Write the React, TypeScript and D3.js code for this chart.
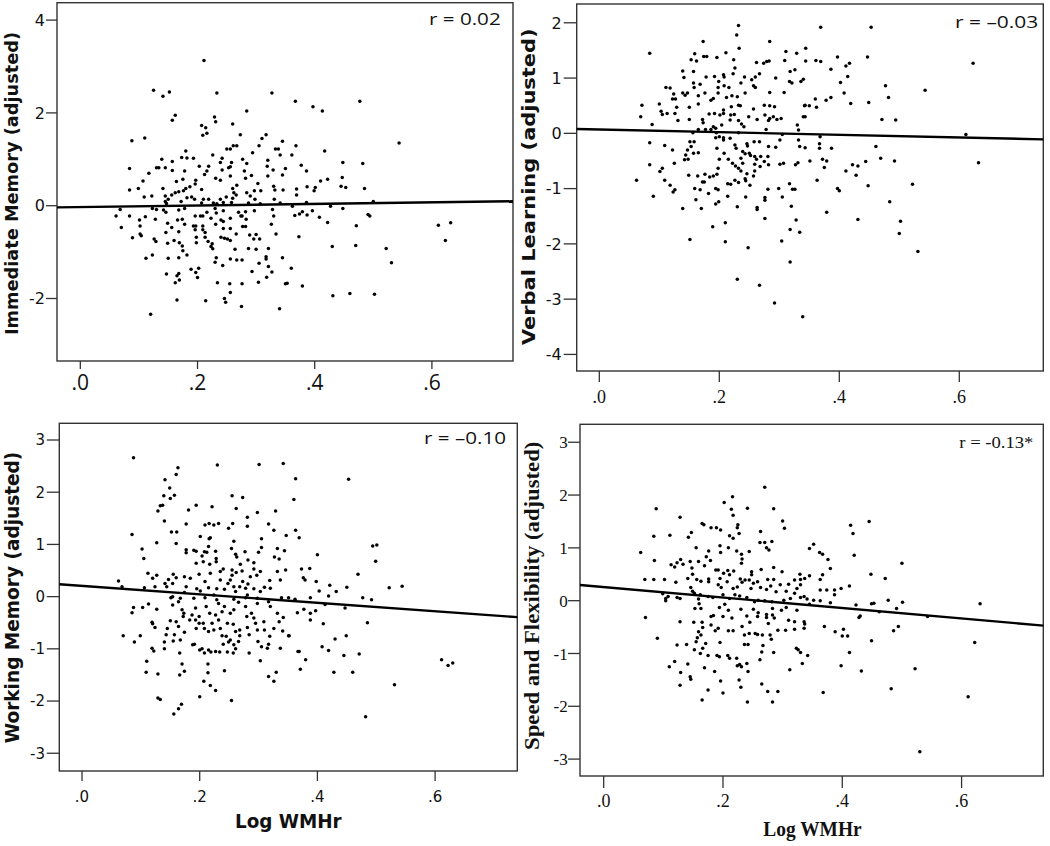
import React from 'react';
import * as d3 from 'd3';

type Pt = [number, number];

// ---------- data ----------
const xTickValues = [0, 0.2, 0.4, 0.6];
const xTickLabels = ['.0', '.2', '.4', '.6'];
const immediateTicks = [4, 2, 0, -2];
const verbalTicks = [2, 1, 0, -1, -2, -3, -4];
const workingTicks = [3, 2, 1, 0, -1, -2, -3];
const speedTicks = [3, 2, 1, 0, -1, -2, -3];

const yTitles = ['Immediate Memory (adjusted)', 'Verbal Learning (adjusted)', 'Working Memory (adjusted)', 'Speed and Flexibility (adjusted)'];
const xTitle = 'Log WMHr';
const rLabels = ['r = 0.02', 'r = \u20130.03', 'r = \u20130.10', 'r = -0.13*'];
const fitIntercepts = [-0.03, 0.069, 0.206, 0.258];
const fitSlopes = [0.17, -0.24, -0.81, -0.99];

const immediateMemory: Pt[] = [
[0.211,3.13],[0.125,2.49],[0.152,2.45],[0.141,2.36],[0.233,2.43],[0.327,2.43],[0.284,2.04],[0.162,1.95],[0.157,1.84],[0.229,1.91],[0.231,1.81],[0.207,1.73],[0.214,1.68],[0.260,1.76],[0.209,1.52],[0.216,1.56],[0.273,1.53],[0.088,1.40],[0.110,1.46],[0.317,1.53],[0.310,1.45],[0.305,1.29],[0.345,1.39],[0.261,1.29],[0.267,1.29],[0.250,1.22],[0.256,1.22],[0.180,1.18],[0.333,1.22],[0.338,1.22],[0.294,1.14],[0.341,1.09],[0.226,1.09],[0.173,1.04],[0.182,1.03],[0.193,1.02],[0.139,1.00],[0.242,1.02],[0.277,1.00],[0.320,0.98],[0.157,0.95],[0.284,0.91],[0.258,0.93],[0.239,0.93],[0.084,0.80],[0.130,0.82],[0.134,0.82],[0.145,0.82],[0.203,0.85],[0.219,0.85],[0.253,0.82],[0.256,0.84],[0.319,0.85],[0.117,0.70],[0.157,0.76],[0.178,0.75],[0.212,0.67],[0.216,0.75],[0.231,0.59],[0.242,0.77],[0.256,0.64],[0.280,0.75],[0.282,0.59],[0.292,0.65],[0.320,0.64],[0.329,0.77],[0.107,0.53],[0.164,0.52],[0.175,0.57],[0.197,0.55],[0.239,0.55],[0.267,0.44],[0.303,0.48],[0.345,0.66],[0.084,0.34],[0.099,0.37],[0.141,0.37],[0.168,0.30],[0.176,0.32],[0.180,0.37],[0.187,0.41],[0.196,0.47],[0.207,0.35],[0.260,0.37],[0.262,0.28],[0.284,0.28],[0.297,0.32],[0.308,0.32],[0.330,0.42],[0.332,0.34],[0.346,0.34],[0.109,0.19],[0.122,0.21],[0.145,0.21],[0.156,0.23],[0.162,0.28],[0.182,0.17],[0.190,0.19],[0.195,0.14],[0.210,0.14],[0.219,0.14],[0.239,0.14],[0.249,0.19],[0.260,0.16],[0.266,0.23],[0.290,0.21],[0.298,0.14],[0.331,0.14],[0.341,0.06],[0.145,0.09],[0.147,0.05],[0.150,0.14],[0.172,0.09],[0.207,0.06],[0.227,0.06],[0.233,0.04],[0.244,0.07],[0.258,0.07],[0.287,0.06],[0.307,0.04],[0.068,-0.08],[0.123,-0.06],[0.130,-0.08],[0.142,-0.09],[0.146,-0.14],[0.168,-0.09],[0.178,-0.06],[0.216,-0.14],[0.230,-0.06],[0.232,-0.16],[0.244,-0.11],[0.270,-0.14],[0.276,-0.22],[0.282,-0.13],[0.297,-0.11],[0.328,-0.08],[0.061,-0.22],[0.084,-0.22],[0.111,-0.24],[0.128,-0.29],[0.196,-0.22],[0.205,-0.22],[0.209,-0.22],[0.223,-0.27],[0.240,-0.31],[0.244,-0.34],[0.256,-0.27],[0.274,-0.22],[0.283,-0.29],[0.330,-0.22],[0.101,-0.31],[0.166,-0.31],[0.174,-0.29],[0.149,-0.38],[0.156,-0.47],[0.178,-0.40],[0.193,-0.44],[0.197,-0.44],[0.209,-0.44],[0.231,-0.40],[0.244,-0.49],[0.256,-0.49],[0.277,-0.45],[0.282,-0.45],[0.070,-0.47],[0.102,-0.44],[0.102,-0.61],[0.196,-0.52],[0.209,-0.52],[0.146,-0.58],[0.168,-0.56],[0.213,-0.58],[0.266,-0.61],[0.289,-0.63],[0.300,-0.62],[0.326,-0.40],[0.334,-0.61],[0.089,-0.69],[0.104,-0.65],[0.198,-0.68],[0.213,-0.68],[0.240,-0.68],[0.246,-0.70],[0.251,-0.72],[0.256,-0.75],[0.296,-0.72],[0.306,-0.72],[0.126,-0.72],[0.129,-0.77],[0.149,-0.81],[0.160,-0.75],[0.169,-0.80],[0.198,-0.80],[0.218,-0.77],[0.225,-0.82],[0.174,-0.87],[0.223,-0.88],[0.226,-0.93],[0.264,-0.94],[0.287,-0.92],[0.300,-0.94],[0.321,-0.92],[0.175,-0.97],[0.182,-1.06],[0.123,-1.06],[0.112,-1.13],[0.150,-1.13],[0.168,-1.12],[0.232,-1.12],[0.256,-1.15],[0.267,-1.17],[0.276,-1.17],[0.230,-1.22],[0.317,-1.10],[0.317,-1.15],[0.345,-1.12],[0.305,-1.24],[0.243,-1.29],[0.189,-1.37],[0.202,-1.35],[0.321,-1.31],[0.293,-1.42],[0.318,-1.54],[0.327,-1.43],[0.147,-1.47],[0.168,-1.46],[0.197,-1.44],[0.200,-1.55],[0.165,-1.51],[0.162,-1.66],[0.169,-1.60],[0.234,-1.66],[0.255,-1.68],[0.276,-1.68],[0.304,-1.65],[0.353,-1.67],[0.256,-1.87],[0.246,-2.00],[0.248,-2.08],[0.165,-2.03],[0.214,-2.05],[0.275,-2.17],[0.340,-2.22],[0.120,-2.34],
[0.367,2.25],[0.477,2.25],[0.397,2.13],[0.413,2.04],[0.544,1.35],[0.368,1.29],[0.361,1.09],[0.417,1.18],[0.448,0.93],[0.482,0.91],[0.377,0.87],[0.386,0.75],[0.350,0.80],[0.422,0.57],[0.410,0.53],[0.447,0.61],[0.401,0.39],[0.399,0.32],[0.387,0.41],[0.445,0.42],[0.453,0.39],[0.485,0.37],[0.369,0.36],[0.369,0.23],[0.386,0.07],[0.500,0.09],[0.362,-0.01],[0.427,-0.01],[0.448,-0.06],[0.366,-0.21],[0.374,-0.18],[0.379,-0.13],[0.387,-0.20],[0.396,-0.11],[0.408,-0.25],[0.422,-0.36],[0.491,-0.19],[0.494,-0.22],[0.471,-0.43],[0.611,-0.42],[0.632,-0.37],[0.623,-0.75],[0.373,-0.67],[0.430,-0.88],[0.470,-0.86],[0.522,-0.92],[0.531,-1.23],[0.360,-1.35],[0.350,-1.68],[0.379,-1.73],[0.431,-1.94],[0.460,-1.89],[0.502,-1.91]
];

const verbalLearning: Pt[] = [
[0.232,1.95],[0.229,1.78],[0.233,1.54],[0.173,1.66],[0.284,1.66],[0.084,1.45],[0.211,1.46],[0.224,1.33],[0.159,1.44],[0.153,1.33],[0.162,1.31],[0.174,1.39],[0.179,1.39],[0.196,1.37],[0.226,1.18],[0.262,1.28],[0.274,1.27],[0.279,1.30],[0.283,1.31],[0.311,1.48],[0.309,1.32],[0.329,1.45],[0.326,1.15],[0.318,1.12],[0.139,1.13],[0.157,1.12],[0.141,1.01],[0.178,1.02],[0.192,1.03],[0.199,0.94],[0.207,1.06],[0.208,1.02],[0.223,1.08],[0.242,1.02],[0.254,0.97],[0.260,1.02],[0.267,1.08],[0.294,1.00],[0.336,0.94],[0.317,0.94],[0.321,0.91],[0.111,0.83],[0.118,0.82],[0.158,0.83],[0.157,0.91],[0.168,0.89],[0.198,0.83],[0.208,0.86],[0.216,0.83],[0.236,0.91],[0.257,0.86],[0.260,0.83],[0.243,0.73],[0.139,0.73],[0.143,0.69],[0.147,0.73],[0.124,0.71],[0.165,0.68],[0.176,0.73],[0.186,0.60],[0.190,0.63],[0.198,0.73],[0.212,0.65],[0.221,0.68],[0.230,0.66],[0.284,0.74],[0.308,0.74],[0.122,0.62],[0.127,0.62],[0.071,0.51],[0.100,0.53],[0.129,0.47],[0.150,0.47],[0.165,0.53],[0.207,0.42],[0.207,0.36],[0.220,0.48],[0.232,0.51],[0.235,0.50],[0.257,0.44],[0.275,0.51],[0.284,0.50],[0.292,0.48],[0.342,0.50],[0.103,0.40],[0.105,0.34],[0.113,0.36],[0.126,0.36],[0.183,0.35],[0.192,0.36],[0.201,0.33],[0.219,0.33],[0.225,0.34],[0.249,0.30],[0.276,0.33],[0.284,0.27],[0.290,0.30],[0.296,0.25],[0.303,0.27],[0.343,0.30],[0.069,0.30],[0.088,0.16],[0.131,0.23],[0.150,0.25],[0.172,0.25],[0.173,0.19],[0.218,0.24],[0.232,0.23],[0.237,0.17],[0.241,0.12],[0.263,0.25],[0.282,0.23],[0.330,0.15],[0.204,0.15],[0.190,0.12],[0.194,0.09],[0.186,0.07],[0.177,0.07],[0.165,0.07],[0.278,0.07],[0.332,0.06],[0.156,0.01],[0.195,0.01],[0.232,0.01],[0.200,-0.06],[0.194,-0.08],[0.207,-0.08],[0.207,-0.12],[0.218,-0.09],[0.305,-0.02],[0.301,-0.12],[0.332,-0.12],[0.084,-0.17],[0.109,-0.22],[0.122,-0.30],[0.151,-0.15],[0.158,-0.15],[0.153,-0.24],[0.147,-0.30],[0.144,-0.39],[0.157,-0.36],[0.165,-0.35],[0.258,-0.15],[0.267,-0.15],[0.226,-0.21],[0.228,-0.27],[0.246,-0.19],[0.247,-0.23],[0.282,-0.24],[0.294,-0.25],[0.334,-0.24],[0.196,-0.27],[0.208,-0.36],[0.239,-0.33],[0.243,-0.37],[0.250,-0.36],[0.215,-0.47],[0.148,-0.47],[0.142,-0.48],[0.200,-0.47],[0.236,-0.45],[0.252,-0.40],[0.259,-0.42],[0.262,-0.47],[0.269,-0.42],[0.281,-0.42],[0.275,-0.51],[0.084,-0.57],[0.125,-0.54],[0.222,-0.54],[0.227,-0.59],[0.239,-0.54],[0.259,-0.56],[0.268,-0.60],[0.282,-0.57],[0.301,-0.56],[0.307,-0.54],[0.327,-0.57],[0.331,-0.53],[0.105,-0.63],[0.101,-0.69],[0.232,-0.63],[0.236,-0.68],[0.259,-0.68],[0.246,-0.73],[0.198,-0.63],[0.196,-0.74],[0.149,-0.76],[0.164,-0.77],[0.176,-0.74],[0.172,-0.88],[0.175,-0.88],[0.190,-0.77],[0.184,-0.79],[0.109,-0.85],[0.118,-0.94],[0.126,-1.02],[0.123,-1.06],[0.062,-0.85],[0.214,-0.91],[0.219,-0.92],[0.226,-0.85],[0.232,-0.89],[0.243,-0.82],[0.244,-0.86],[0.251,-0.94],[0.257,-0.77],[0.194,-1.00],[0.198,-1.02],[0.159,-1.00],[0.168,-1.02],[0.299,-1.00],[0.317,-0.91],[0.322,-1.01],[0.326,-1.01],[0.281,-1.01],[0.090,-1.14],[0.161,-1.20],[0.182,-1.09],[0.214,-1.14],[0.244,-1.15],[0.276,-1.16],[0.276,-1.21],[0.305,-1.15],[0.194,-1.28],[0.199,-1.24],[0.139,-1.36],[0.170,-1.36],[0.230,-1.33],[0.263,-1.34],[0.263,-1.38],[0.320,-1.32],[0.276,-1.54],[0.328,-1.57],[0.210,-1.62],[0.189,-1.69],[0.318,-1.74],[0.334,-1.79],[0.304,-1.95],[0.151,-1.92],[0.210,-1.96],[0.248,-2.07],[0.318,-2.33],[0.230,-2.64],[0.267,-2.75],[0.292,-3.07],[0.339,-3.32],
[0.369,1.92],[0.453,1.92],[0.344,1.54],[0.344,1.31],[0.361,1.32],[0.369,1.30],[0.397,1.38],[0.447,1.38],[0.623,1.27],[0.386,1.16],[0.411,1.22],[0.417,1.27],[0.414,1.03],[0.402,0.92],[0.340,0.98],[0.408,0.73],[0.477,0.86],[0.482,0.65],[0.543,0.78],[0.360,0.62],[0.378,0.60],[0.386,0.65],[0.343,0.51],[0.350,0.50],[0.362,0.47],[0.419,0.54],[0.449,0.56],[0.340,0.30],[0.471,0.25],[0.494,0.24],[0.611,-0.02],[0.368,-0.06],[0.367,-0.19],[0.367,-0.27],[0.343,-0.26],[0.387,-0.27],[0.461,-0.24],[0.351,-0.50],[0.372,-0.47],[0.379,-0.50],[0.375,-0.62],[0.422,-0.57],[0.431,-0.59],[0.444,-0.51],[0.469,-0.45],[0.492,-0.50],[0.632,-0.53],[0.411,-0.68],[0.428,-0.76],[0.363,-0.85],[0.397,-1.00],[0.400,-1.04],[0.448,-0.95],[0.522,-0.92],[0.484,-1.24],[0.379,-1.43],[0.431,-1.56],[0.502,-1.59],[0.500,-1.81],[0.531,-2.14]
];

const workingMemory: Pt[] = [
[0.0875,2.66],[0.163,2.47],[0.160,2.34],[0.230,2.52],[0.301,2.53],[0.342,2.55],[0.141,2.24],[0.149,2.08],[0.157,1.94],[0.139,1.93],[0.150,1.88],[0.255,1.93],[0.273,1.90],[0.194,1.75],[0.133,1.74],[0.137,1.75],[0.221,1.72],[0.262,1.69],[0.181,1.66],[0.129,1.64],[0.329,1.64],[0.298,1.61],[0.140,1.45],[0.281,1.52],[0.177,1.39],[0.209,1.37],[0.216,1.40],[0.224,1.37],[0.232,1.40],[0.249,1.31],[0.256,1.40],[0.281,1.35],[0.317,1.39],[0.326,1.27],[0.152,1.24],[0.161,1.24],[0.085,1.19],[0.218,1.13],[0.216,1.11],[0.201,1.15],[0.305,1.11],[0.347,1.17],[0.258,1.06],[0.160,1.02],[0.127,1.03],[0.102,0.91],[0.177,0.90],[0.194,0.87],[0.208,0.86],[0.212,0.85],[0.215,0.96],[0.227,0.87],[0.254,0.92],[0.277,0.86],[0.305,0.94],[0.332,0.92],[0.300,0.85],[0.344,0.88],[0.105,0.73],[0.177,0.84],[0.190,0.89],[0.204,0.78],[0.228,0.73],[0.261,0.81],[0.263,0.76],[0.282,0.70],[0.292,0.65],[0.327,0.76],[0.335,0.72],[0.194,0.64],[0.206,0.67],[0.217,0.62],[0.228,0.67],[0.269,0.62],[0.240,0.53],[0.255,0.51],[0.272,0.49],[0.292,0.53],[0.303,0.48],[0.332,0.48],[0.346,0.51],[0.112,0.45],[0.155,0.43],[0.174,0.38],[0.184,0.35],[0.199,0.43],[0.218,0.45],[0.235,0.48],[0.255,0.41],[0.262,0.46],[0.252,0.32],[0.286,0.38],[0.297,0.41],[0.120,0.35],[0.127,0.41],[0.062,0.30],[0.147,0.33],[0.160,0.36],[0.141,0.25],[0.209,0.29],[0.235,0.32],[0.248,0.25],[0.273,0.29],[0.282,0.24],[0.319,0.31],[0.337,0.32],[0.068,0.19],[0.106,0.17],[0.124,0.19],[0.144,0.19],[0.154,0.25],[0.177,0.19],[0.195,0.15],[0.215,0.17],[0.229,0.15],[0.242,0.14],[0.258,0.19],[0.268,0.19],[0.278,0.16],[0.292,0.15],[0.310,0.18],[0.320,0.16],[0.174,0.08],[0.201,0.11],[0.224,0.03],[0.261,0.10],[0.281,0.03],[0.303,0.10],[0.151,-0.02],[0.154,0.00],[0.167,-0.03],[0.164,-0.10],[0.190,-0.03],[0.209,-0.02],[0.229,-0.06],[0.258,-0.05],[0.266,-0.11],[0.278,-0.02],[0.298,-0.03],[0.317,-0.10],[0.339,-0.02],[0.0875,-0.21],[0.103,-0.21],[0.127,-0.24],[0.085,-0.31],[0.113,-0.14],[0.154,-0.16],[0.170,-0.25],[0.173,-0.32],[0.193,-0.22],[0.211,-0.19],[0.232,-0.13],[0.242,-0.19],[0.258,-0.25],[0.278,-0.19],[0.288,-0.32],[0.298,-0.13],[0.320,-0.19],[0.332,-0.32],[0.172,-0.38],[0.187,-0.35],[0.199,-0.38],[0.217,-0.32],[0.227,-0.35],[0.238,-0.29],[0.252,-0.32],[0.280,-0.38],[0.292,-0.41],[0.342,-0.40],[0.335,-0.48],[0.120,-0.52],[0.150,-0.46],[0.160,-0.48],[0.183,-0.45],[0.193,-0.45],[0.199,-0.51],[0.206,-0.51],[0.221,-0.51],[0.232,-0.45],[0.247,-0.51],[0.257,-0.53],[0.295,-0.51],[0.309,-0.48],[0.119,-0.49],[0.124,-0.59],[0.145,-0.61],[0.164,-0.57],[0.194,-0.61],[0.208,-0.61],[0.215,-0.67],[0.224,-0.64],[0.235,-0.61],[0.261,-0.67],[0.268,-0.64],[0.281,-0.59],[0.298,-0.64],[0.310,-0.64],[0.326,-0.61],[0.070,-0.75],[0.099,-0.75],[0.143,-0.73],[0.157,-0.73],[0.174,-0.68],[0.238,-0.75],[0.245,-0.76],[0.252,-0.83],[0.268,-0.75],[0.284,-0.73],[0.319,-0.76],[0.352,-0.75],[0.089,-0.87],[0.140,-0.87],[0.155,-0.85],[0.167,-0.83],[0.240,-0.91],[0.249,-0.87],[0.258,-0.92],[0.266,-0.86],[0.299,-0.86],[0.305,-0.96],[0.191,-0.91],[0.188,-0.92],[0.204,-1.00],[0.208,-1.08],[0.215,-1.02],[0.119,-0.99],[0.122,-1.04],[0.140,-1.00],[0.219,-1.06],[0.227,-1.05],[0.234,-1.06],[0.247,-1.06],[0.257,-1.08],[0.261,-1.00],[0.284,-1.08],[0.315,-0.99],[0.317,-0.91],[0.337,-0.99],[0.166,-1.08],[0.200,-1.02],[0.110,-1.24],[0.109,-1.45],[0.129,-1.48],[0.170,-1.29],[0.174,-1.43],[0.166,-1.50],[0.214,-1.29],[0.214,-1.46],[0.207,-1.62],[0.218,-1.70],[0.242,-1.42],[0.303,-1.23],[0.317,-1.53],[0.326,-1.62],[0.330,-1.45],[0.200,-1.92],[0.129,-1.94],[0.133,-1.97],[0.227,-1.80],[0.254,-1.99],[0.169,-2.06],[0.164,-2.15],[0.156,-2.25],
[0.363,2.26],[0.453,2.25],[0.360,1.86],[0.363,1.27],[0.369,1.13],[0.494,0.97],[0.501,0.99],[0.499,0.68],[0.400,0.80],[0.373,0.53],[0.376,0.36],[0.387,0.54],[0.379,0.32],[0.398,0.29],[0.469,0.43],[0.522,0.17],[0.544,0.20],[0.421,0.22],[0.432,0.10],[0.450,0.18],[0.403,0.11],[0.419,0.01],[0.388,-0.02],[0.477,-0.02],[0.492,-0.06],[0.351,-0.02],[0.362,-0.05],[0.413,-0.15],[0.447,-0.22],[0.366,-0.31],[0.377,-0.24],[0.388,-0.32],[0.388,-0.45],[0.397,-0.27],[0.410,-0.52],[0.485,-0.50],[0.341,-0.66],[0.351,-0.75],[0.430,-0.81],[0.449,-0.75],[0.408,-0.96],[0.419,-1.03],[0.445,-1.13],[0.471,-1.10],[0.367,-1.05],[0.369,-1.05],[0.380,-1.21],[0.371,-1.39],[0.428,-1.45],[0.460,-1.45],[0.611,-1.21],[0.622,-1.32],[0.630,-1.27],[0.531,-1.69],[0.482,-2.30]
];

const speedFlexibility: Pt[] = [
[0.270,2.15],[0.216,1.97],[0.202,1.86],[0.241,1.75],[0.214,1.73],[0.217,1.62],[0.285,1.74],[0.088,1.74],[0.128,1.58],[0.300,1.51],[0.303,1.37],[0.165,1.46],[0.168,1.44],[0.180,1.38],[0.189,1.38],[0.196,1.34],[0.147,1.29],[0.142,1.20],[0.084,1.22],[0.111,1.24],[0.225,1.44],[0.224,1.38],[0.227,1.27],[0.211,1.23],[0.217,1.18],[0.209,1.00],[0.263,1.31],[0.262,1.10],[0.270,1.10],[0.282,1.12],[0.273,1.00],[0.277,0.96],[0.244,0.93],[0.195,1.04],[0.155,1.00],[0.176,0.94],[0.172,0.83],[0.179,0.76],[0.196,0.91],[0.231,0.88],[0.232,0.79],[0.231,0.71],[0.223,0.94],[0.062,0.91],[0.085,0.76],[0.129,0.78],[0.123,0.72],[0.133,0.69],[0.145,0.74],[0.148,0.62],[0.159,0.74],[0.149,0.50],[0.113,0.68],[0.119,0.64],[0.141,0.42],[0.169,0.66],[0.188,0.58],[0.192,0.58],[0.195,0.42],[0.201,0.52],[0.208,0.57],[0.211,0.49],[0.218,0.56],[0.248,0.55],[0.248,0.49],[0.264,0.59],[0.285,0.63],[0.299,0.55],[0.285,0.40],[0.296,0.30],[0.310,0.31],[0.320,0.39],[0.329,0.50],[0.330,0.40],[0.330,0.30],[0.337,0.42],[0.069,0.40],[0.084,0.40],[0.102,0.40],[0.121,0.35],[0.156,0.40],[0.163,0.37],[0.176,0.41],[0.176,0.36],[0.229,0.41],[0.232,0.35],[0.237,0.39],[0.244,0.39],[0.251,0.33],[0.258,0.36],[0.275,0.40],[0.192,0.30],[0.197,0.25],[0.207,0.36],[0.217,0.23],[0.224,0.26],[0.247,0.23],[0.263,0.25],[0.273,0.21],[0.280,0.28],[0.289,0.17],[0.306,0.18],[0.320,0.14],[0.324,0.23],[0.099,0.13],[0.104,0.04],[0.104,0.00],[0.108,0.08],[0.123,0.06],[0.128,0.04],[0.152,0.14],[0.162,0.11],[0.149,0.18],[0.146,0.25],[0.159,0.03],[0.175,0.08],[0.183,0.06],[0.200,0.11],[0.211,0.04],[0.220,0.11],[0.228,0.09],[0.240,0.06],[0.253,-0.02],[0.259,0.01],[0.270,0.00],[0.282,-0.02],[0.302,0.01],[0.313,0.04],[0.330,0.06],[0.336,0.08],[0.160,-0.06],[0.153,-0.15],[0.163,-0.15],[0.194,-0.13],[0.203,-0.07],[0.209,-0.18],[0.230,-0.16],[0.251,-0.16],[0.259,-0.23],[0.273,-0.26],[0.283,-0.15],[0.298,-0.18],[0.306,-0.13],[0.324,-0.18],[0.070,-0.32],[0.180,-0.30],[0.184,-0.28],[0.200,-0.30],[0.215,-0.33],[0.240,-0.29],[0.245,-0.41],[0.258,-0.30],[0.273,-0.32],[0.283,-0.27],[0.286,-0.33],[0.276,-0.43],[0.310,-0.37],[0.320,-0.40],[0.336,-0.40],[0.337,-0.44],[0.128,-0.40],[0.151,-0.41],[0.165,-0.41],[0.166,-0.51],[0.159,-0.59],[0.157,-0.70],[0.163,-0.65],[0.155,-0.78],[0.171,-0.81],[0.180,-0.46],[0.187,-0.57],[0.192,-0.52],[0.209,-0.57],[0.217,-0.57],[0.232,-0.49],[0.236,-0.65],[0.244,-0.62],[0.254,-0.62],[0.258,-0.64],[0.266,-0.65],[0.279,-0.65],[0.281,-0.73],[0.292,-0.56],[0.305,-0.56],[0.320,-0.54],[0.336,-0.52],[0.195,-0.79],[0.236,-0.83],[0.242,-0.83],[0.267,-0.85],[0.123,-0.84],[0.139,-0.83],[0.090,-0.71],[0.285,-0.98],[0.265,-0.97],[0.262,-1.12],[0.323,-0.90],[0.326,-0.93],[0.330,-0.98],[0.333,-1.19],[0.312,-1.31],[0.166,-0.90],[0.152,-0.93],[0.162,-1.00],[0.175,-1.04],[0.190,-1.04],[0.194,-1.06],[0.208,-1.04],[0.211,-1.09],[0.223,-1.09],[0.228,-1.21],[0.231,-1.25],[0.224,-1.23],[0.240,-1.19],[0.242,-1.34],[0.110,-1.25],[0.119,-1.15],[0.141,-1.20],[0.129,-1.36],[0.145,-1.44],[0.146,-1.49],[0.128,-1.60],[0.169,-1.27],[0.186,-1.34],[0.196,-1.52],[0.200,-1.75],[0.175,-1.69],[0.165,-1.88],[0.227,-1.50],[0.230,-1.64],[0.265,-1.58],[0.275,-1.72],[0.292,-1.72],[0.241,-1.92],[0.283,-1.92],
[0.445,1.50],[0.414,1.43],[0.418,1.27],[0.420,0.86],[0.352,1.07],[0.345,0.99],[0.362,0.91],[0.367,0.88],[0.376,0.78],[0.380,0.61],[0.500,0.71],[0.448,0.50],[0.472,0.42],[0.345,0.47],[0.367,0.49],[0.363,0.40],[0.412,0.28],[0.398,0.23],[0.387,0.20],[0.387,0.11],[0.363,0.20],[0.374,0.20],[0.341,0.03],[0.352,0.01],[0.363,0.00],[0.380,-0.04],[0.345,-0.07],[0.423,-0.08],[0.449,-0.06],[0.453,-0.05],[0.477,0.01],[0.501,-0.03],[0.491,-0.15],[0.631,-0.06],[0.462,-0.21],[0.428,-0.32],[0.430,-0.29],[0.543,-0.30],[0.370,-0.49],[0.388,-0.59],[0.402,-0.54],[0.400,-0.67],[0.409,-0.67],[0.486,-0.57],[0.494,-0.49],[0.449,-0.76],[0.622,-0.79],[0.412,-0.98],[0.342,-1.04],[0.398,-1.23],[0.432,-1.33],[0.522,-1.29],[0.368,-1.74],[0.482,-1.67],[0.611,-1.82],[0.530,-2.86]
];

// ---------- layout / styling ----------
const SANS = "'DejaVu Sans', Verdana, sans-serif";
const RSANS = "'Open Sans', 'DejaVu Sans', sans-serif";
const SERIF = "'Liberation Serif', 'DejaVu Serif', serif";

interface PanelSpec {
  left: number; right: number; top: number; bottom: number;
  xDomain: [number, number]; yDomain: [number, number];
  yTicks: number[]; points: Pt[]; idx: number;
  yTickLen: number; yLabelEnd: number; yTickFont: string; yTickSize: number;
  xTickLen: number; xLabelBase: number; xTickFont: string; xTickSize: number;
  titleFont: string; titleSize: number; titleBase: number; titleCenter: number; titleLen: number;
  rFont: string; rSize: number; rEnd: number; rBase: number; rLen: number;
  xTitle?: { center: number; base: number; len: number; size: number };
}

const panels: PanelSpec[] = [
  { left: 57, right: 513, top: 2.7, bottom: 361, xDomain: [-0.0398, 0.7384], yDomain: [-3.347, 4.375],
    yTicks: immediateTicks, points: immediateMemory, idx: 0,
    yTickLen: 11, yLabelEnd: 45, yTickFont: SANS, yTickSize: 16,
    xTickLen: 8, xLabelBase: 390, xTickFont: RSANS, xTickSize: 21,
    titleFont: SANS, titleSize: 18, titleBase: 17.5, titleCenter: 183.5, titleLen: 303,
    rFont: RSANS, rSize: 17, rEnd: 500.7, rBase: 25, rLen: 71.7 },
  { left: 576.7, right: 1043.3, top: 4, bottom: 371, xDomain: [-0.0377, 0.74], yDomain: [-4.30, 2.34],
    yTicks: verbalTicks, points: verbalLearning, idx: 1,
    yTickLen: 13, yLabelEnd: 561.7, yTickFont: SANS, yTickSize: 16,
    xTickLen: 11, xLabelBase: 402.7, xTickFont: SERIF, xTickSize: 18,
    titleFont: SANS, titleSize: 18.5, titleBase: 535, titleCenter: 186.7, titleLen: 316.7,
    rFont: RSANS, rSize: 17, rEnd: 1038.3, rBase: 28.3, rLen: 83.3 },
  { left: 59.3, right: 517.3, top: 423.3, bottom: 771, xDomain: [-0.0386, 0.7397], yDomain: [-3.34, 3.32],
    yTicks: workingTicks, points: workingMemory, idx: 2,
    yTickLen: 12.5, yLabelEnd: 45, yTickFont: SANS, yTickSize: 15,
    xTickLen: 10, xLabelBase: 801.7, xTickFont: SANS, xTickSize: 15,
    titleFont: SANS, titleSize: 19, titleBase: 19, titleCenter: 597.5, titleLen: 291.6,
    rFont: RSANS, rSize: 17, rEnd: 506, rBase: 444.3, rLen: 82,
    xTitle: { center: 288.3, base: 828.3, len: 106.7, size: 19 } },
  { left: 580, right: 1043.3, top: 424.3, bottom: 776, xDomain: [-0.0397, 0.737], yDomain: [-3.32, 3.34],
    yTicks: speedTicks, points: speedFlexibility, idx: 3,
    yTickLen: 12, yLabelEnd: 567.7, yTickFont: SERIF, yTickSize: 17,
    xTickLen: 12, xLabelBase: 806.7, xTickFont: SERIF, xTickSize: 18,
    titleFont: SERIF, titleSize: 20, titleBase: 538.5, titleCenter: 595.8, titleLen: 308.3,
    rFont: SERIF, rSize: 17.5, rEnd: 1033.3, rBase: 447.7, rLen: 74,
    xTitle: { center: 812.5, base: 835.7, len: 98.3, size: 20 } },
];

const FRAME = '#333';

function Panel({ p }: { p: PanelSpec }) {
  const x = d3.scaleLinear().domain(p.xDomain).range([p.left, p.right]);
  const y = d3.scaleLinear().domain(p.yDomain).range([p.bottom, p.top]);
  const a = fitIntercepts[p.idx];
  const b = fitSlopes[p.idx];
  const fitPath = d3.line<number>().x(d => x(d)).y(d => y(a + b * d))(p.xDomain) || '';
  return (
    <g>
      <rect x={p.left} y={p.top} width={p.right - p.left} height={p.bottom - p.top}
        fill="#fff" stroke={FRAME} strokeWidth={1.4} />
      {p.yTicks.map(t => (
        <g key={'y' + t}>
          <line x1={p.left - p.yTickLen} x2={p.left} y1={y(t)} y2={y(t)} stroke={FRAME} strokeWidth={1.3} />
          <text x={p.yLabelEnd} y={y(t)} dy="0.36em" textAnchor="end"
            fontFamily={p.yTickFont} fontSize={p.yTickSize} fill="#111">{String(t)}</text>
        </g>
      ))}
      {xTickValues.map((t, i) => (
        <g key={'x' + t}>
          <line x1={x(t)} x2={x(t)} y1={p.bottom} y2={p.bottom + p.xTickLen} stroke={FRAME} strokeWidth={1.3} />
          <text x={x(t)} y={p.xLabelBase} textAnchor="middle"
            fontFamily={p.xTickFont} fontSize={p.xTickSize} fill="#111">{xTickLabels[i]}</text>
        </g>
      ))}
      {p.points.map((d, i) => (
        <circle key={i} cx={x(d[0])} cy={y(d[1])} r={1.75} fill="#000" />
      ))}
      <path d={fitPath} stroke="#000" strokeWidth={2.4} fill="none" />
      <text x={p.rEnd} y={p.rBase} textAnchor="end" fontFamily={p.rFont} fontSize={p.rSize}
        textLength={p.rLen} lengthAdjust="spacingAndGlyphs" fill="#111">{rLabels[p.idx]}</text>
      <text transform={`translate(${p.titleBase},${p.titleCenter}) rotate(-90)`} textAnchor="middle"
        fontFamily={p.titleFont} fontWeight="bold" fontSize={p.titleSize}
        textLength={p.titleLen} lengthAdjust="spacingAndGlyphs" fill="#111">{yTitles[p.idx]}</text>
      {p.xTitle && (
        <text x={p.xTitle.center} y={p.xTitle.base} textAnchor="middle"
          fontFamily={p.titleFont} fontWeight="bold" fontSize={p.xTitle.size}
          textLength={p.xTitle.len} lengthAdjust="spacingAndGlyphs" fill="#111">{xTitle}</text>
      )}
    </g>
  );
}

export default function App() {
  return (
    <svg width={1050} height={846} viewBox="0 0 1050 846"
      style={{ position: 'absolute', left: 0, top: 0, background: '#fff' }}>
      <rect x={0} y={0} width={1050} height={846} fill="#fff" />
      {panels.map(p => <Panel key={p.idx} p={p} />)}
    </svg>
  );
}
